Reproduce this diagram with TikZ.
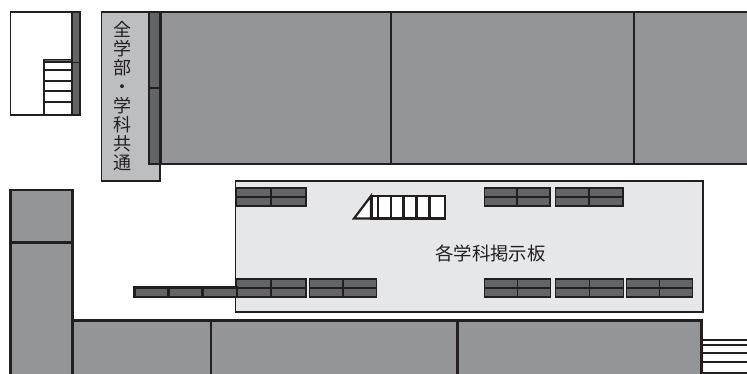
\documentclass[tikz,border=0pt]{standalone}
\usepackage{fontspec}
\newfontfamily\cjk{Noto Sans CJK JP}
\definecolor{ink}{HTML}{231F20}
\definecolor{room}{HTML}{939598}
\definecolor{strip}{HTML}{636466}
\definecolor{panel}{HTML}{BCBEC0}
\definecolor{hall}{HTML}{E6E7E8}
\tikzset{
  wall/.style={draw=ink,line width=2.2pt,line join=miter},
  roomfill/.style={wall,fill=room},
  stripfill/.style={wall,fill=strip},
  thin wall/.style={draw=ink,line width=1.7pt},
  labeltext/.style={font=\cjk,text=ink,inner sep=0pt}
}
\newcommand{\shelf}[3]{% x0, x1, y0
  \draw[stripfill,line width=1.8pt] (#1,#3) rectangle (#2,#3+18);
  \draw[thin wall,line width=1.9pt] (#1,#3+9) -- (#2,#3+9) ({(#1+#2)/2},#3) -- ({(#1+#2)/2},#3+18);
}
\begin{document}
\begin{tikzpicture}[x=1pt,y=-1pt]
\useasboundingbox (0,0) rectangle (747,374);
% upper-left stair room
\draw[draw=ink,line width=1.6pt,fill=white] (10.5,12) rectangle (80,115);
\draw[stripfill,line width=1.6pt] (72,12) rectangle (80,115);
\draw[wall,line width=1.8pt] (72,62.5) -- (80,62.5);
\draw[thin wall,fill=white] (44,59.5) rectangle (72,115);
\draw[thin wall,fill=strip,line width=1.2pt] (44,59.5) rectangle (72,62);
\foreach \yy in {70,81,91,102} \draw[thin wall] (44,\yy) -- (72,\yy);
% common panel
\draw[draw=ink,line width=1.6pt,fill=panel] (101.5,12) rectangle (160,181);
\node[labeltext,font=\cjk\fontsize{18}{19}\selectfont,align=center,anchor=center] (common) at (122.5,96.5)
  {全\\学\\部\\・\\学\\科\\共\\通};
% upper rooms
\draw[roomfill] (160,12) rectangle (749,164);
\draw[wall] (391,12) -- (391,164) (634,12) -- (634,164);
\draw[stripfill] (149,12) rectangle (160.5,164);
\draw[wall] (149,88) -- (160.5,88);
% hall
\draw[draw=ink,line width=1.2pt,fill=hall] (235.5,181) rectangle (703,312);
\node[labeltext,font=\cjk\fontsize{18.4}{20}\selectfont] (hall) at (490.5,253) {各学科掲示板};
% shelves
\shelf{236.5}{306}{188}
\shelf{484.5}{550}{188}
\shelf{555.5}{623}{188}
\shelf{236.5}{306}{279}
\shelf{309.5}{376.5}{279}
\shelf{484.5}{550.5}{279}
\shelf{555.5}{623.5}{279}
\shelf{626.5}{692.5}{279}
% left strip
\draw[stripfill,line width=2.4pt] (134.5,287.5) rectangle (237,297);
\draw[wall] (168.5,287.5) -- (168.5,297) (202.5,287.5) -- (202.5,297);
% middle stairs
\draw[wall,fill=white] (371,196) rectangle (445,218.5);
\foreach \xx in {378,391,403.5,416.5,429.5} \draw[wall] (\xx,196) -- (\xx,218.5);
\draw[wall,fill=white] (371,196) -- (371,218.5) -- (354,218.5) -- cycle;
\draw[ink,line width=3.6pt] (371.5,196) -- (371.5,218.5);
% lower-left rooms
\draw[roomfill] (10.5,190) rectangle (72.5,378);
\draw[wall] (10.5,242.5) -- (72.5,242.5);
\draw[roomfill] (72.5,320.5) rectangle (701.5,378);
\draw[wall] (211,320.5) -- (211,378) (457.5,320.5) -- (457.5,378);
% lower-right stairs
\foreach \yy in {340,345,353,362,373} \draw[thin wall] (702,\yy) -- (749,\yy);
\end{tikzpicture}
\end{document}
